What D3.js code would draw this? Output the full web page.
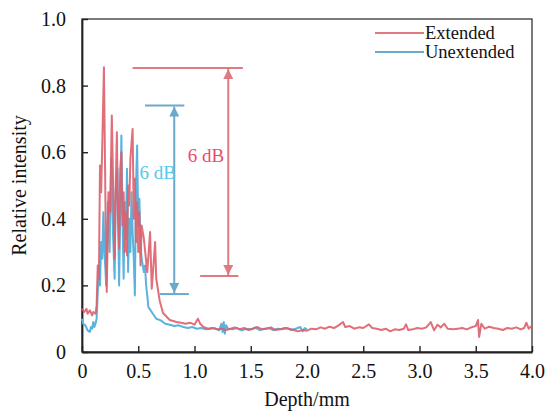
<html>
<head>
    <meta charset="UTF-8">
    <title>Relative intensity vs depth</title>
    <script src="https://d3js.org/d3.v7.min.js"></script>
    <style>
        body { margin: 0; background: #fff; }
        text { font-family: "Liberation Serif", "Times New Roman", serif; }
    </style>
</head>
<body>
    <svg width="545" height="417"></svg>
    <script>
        // values (depth in mm, relative intensity)
        var extendedDepth = [0.00, 0.02, 0.04, 0.05, 0.07, 0.09, 0.10, 0.12, 0.13, 0.14, 0.15, 0.16, 0.17, 0.18, 0.195,
            0.21, 0.22, 0.235, 0.25, 0.265, 0.28, 0.29, 0.30, 0.31, 0.32, 0.33, 0.34, 0.35, 0.36, 0.37, 0.38, 0.39,
            0.40, 0.41, 0.42, 0.43, 0.45, 0.46, 0.47, 0.48, 0.49, 0.50, 0.51, 0.52, 0.53, 0.55, 0.58, 0.605, 0.62,
            0.65, 0.66, 0.69, 0.72, 0.78, 0.84, 0.88, 0.92, 0.96, 1.00, 1.03, 1.05, 1.08, 1.12, 1.16, 1.20, 1.24,
            1.28, 1.32, 1.36, 1.40, 1.44, 1.48, 1.52, 1.56, 1.60, 1.64, 1.68, 1.72, 1.76, 1.80, 1.84, 1.88, 1.92,
            1.96, 2.00, 2.04, 2.08, 2.12, 2.16, 2.20, 2.24, 2.28, 2.32, 2.34, 2.38, 2.42, 2.46, 2.50, 2.55, 2.58,
            2.62, 2.66, 2.70, 2.74, 2.78, 2.82, 2.86, 2.88, 2.90, 2.94, 2.98, 3.02, 3.06, 3.10, 3.13, 3.16, 3.19,
            3.22, 3.25, 3.30, 3.34, 3.38, 3.42, 3.46, 3.50, 3.52, 3.53, 3.55, 3.58, 3.62, 3.66, 3.70, 3.74, 3.78,
            3.82, 3.86, 3.90, 3.93, 3.95, 3.97, 4.00];
        var extendedIntensity = [0.13, 0.12, 0.13, 0.115, 0.125, 0.11, 0.12, 0.115, 0.14, 0.26, 0.22, 0.56, 0.48, 0.62, 0.855,
            0.40, 0.18, 0.48, 0.42, 0.71, 0.45, 0.28, 0.50, 0.66, 0.40, 0.31, 0.55, 0.60, 0.38, 0.48, 0.30, 0.42,
            0.29, 0.50, 0.44, 0.58, 0.67, 0.40, 0.52, 0.33, 0.45, 0.30, 0.42, 0.26, 0.38, 0.34, 0.24, 0.36, 0.19,
            0.33, 0.22, 0.155, 0.117, 0.096, 0.09, 0.088, 0.085, 0.088, 0.082, 0.10, 0.085, 0.075, 0.07, 0.072, 0.068, 0.07,
            0.066, 0.07, 0.074, 0.068, 0.072, 0.066, 0.07, 0.075, 0.068, 0.07, 0.074, 0.066, 0.068, 0.072, 0.07, 0.066, 0.062,
            0.066, 0.064, 0.07, 0.068, 0.074, 0.07, 0.076, 0.072, 0.08, 0.09, 0.075, 0.078, 0.07, 0.074, 0.072, 0.083, 0.072,
            0.07, 0.066, 0.07, 0.062, 0.068, 0.066, 0.07, 0.083, 0.066, 0.068, 0.072, 0.07, 0.074, 0.09, 0.065, 0.082, 0.074,
            0.085, 0.07, 0.068, 0.07, 0.072, 0.068, 0.074, 0.078, 0.096, 0.045, 0.085, 0.07, 0.076, 0.072, 0.07, 0.066, 0.072,
            0.07, 0.074, 0.068, 0.072, 0.088, 0.07, 0.08];

        var unextendedDepth = [0.00, 0.01, 0.03, 0.05, 0.07, 0.08, 0.09, 0.10, 0.11, 0.12, 0.13, 0.14, 0.15, 0.16, 0.17,
            0.18, 0.19, 0.20, 0.215, 0.23, 0.245, 0.26, 0.275, 0.29, 0.30, 0.315, 0.33, 0.35, 0.36, 0.37, 0.38, 0.39,
            0.40, 0.41, 0.42, 0.43, 0.44, 0.45, 0.46, 0.47, 0.48, 0.49, 0.50, 0.51, 0.52, 0.53, 0.55, 0.56, 0.57,
            0.58, 0.59, 0.61, 0.63, 0.66, 0.70, 0.74, 0.78, 0.82, 0.86, 0.90, 0.94, 0.98, 1.02, 1.06, 1.10, 1.14,
            1.18, 1.22, 1.24, 1.25, 1.26, 1.27, 1.28, 1.30, 1.34, 1.38, 1.42, 1.46, 1.50, 1.54, 1.58, 1.62, 1.66,
            1.70, 1.74, 1.78, 1.82, 1.86, 1.90, 1.94, 1.96, 1.98, 2.00];
        var unextendedIntensity = [0.10, 0.085, 0.08, 0.065, 0.06, 0.075, 0.07, 0.09, 0.075, 0.085, 0.10, 0.18, 0.26, 0.20, 0.33,
            0.28, 0.42, 0.30, 0.20, 0.45, 0.30, 0.58, 0.36, 0.22, 0.48, 0.55, 0.20, 0.65, 0.40, 0.22, 0.45, 0.34,
            0.55, 0.24, 0.40, 0.30, 0.48, 0.36, 0.28, 0.17, 0.50, 0.62, 0.38, 0.46, 0.32, 0.28, 0.24, 0.26, 0.20,
            0.17, 0.135, 0.125, 0.115, 0.10, 0.095, 0.085, 0.082, 0.078, 0.08, 0.075, 0.072, 0.075, 0.07, 0.072, 0.068, 0.07,
            0.072, 0.065, 0.085, 0.06, 0.09, 0.055, 0.08, 0.07, 0.068, 0.072, 0.065, 0.07, 0.068, 0.074, 0.066, 0.07, 0.072,
            0.066, 0.07, 0.068, 0.072, 0.066, 0.07, 0.075, 0.062, 0.072, 0.068];

        var xTicks = [0, 0.5, 1.0, 1.5, 2.0, 2.5, 3.0, 3.5, 4.0];
        var xTickLabels = ['0', '0.5', '1.0', '1.5', '2.0', '2.5', '3.0', '3.5', '4.0'];
        var yTicks = [0, 0.2, 0.4, 0.6, 0.8, 1.0];
        var yTickLabels = ['0', '0.2', '0.4', '0.6', '0.8', '1.0'];

        var seriesNames = ['Extended', 'Unextended'];
        // 6 dB markers: [top intensity, bottom intensity]
        var extendedSpan = [0.853, 0.228];
        var unextendedSpan = [0.74, 0.174];
        var spanLabels = ['6 dB', '6 dB'];

        var serif = '"Liberation Serif", "Times New Roman", serif';
        var margin = { top: 19, right: 13, bottom: 65, left: 82 },
            svg = d3.select('svg'),
            width = +svg.attr('width') - margin.left - margin.right,
            height = +svg.attr('height') - margin.top - margin.bottom,
            g = svg.append('g').attr('transform', 'translate(' + margin.left + ',' + margin.top + ')');

        var x = d3.scaleLinear().domain([0, 4]).range([0, width]);
        var y = d3.scaleLinear().domain([0, 1]).range([height, 0]);

        var colors = { ext: '#dd5f6b', unext: '#5ab3dc', extMark: '#e07a82', unextMark: '#6aa9cc',
                       extText: '#ea4a72', unextText: '#55c8ec' };

        // frame
        g.append('rect').attr('width', width).attr('height', height)
            .attr('fill', 'none').attr('stroke', '#222').attr('stroke-width', 1.2);

        var xAxis = g.append('g').attr('transform', 'translate(0,' + height + ')')
            .call(d3.axisBottom(x).tickValues(xTicks).tickSizeInner(-6).tickSizeOuter(0)
                .tickFormat(function (d, i) { return xTickLabels[i]; }));
        var yAxis = g.append('g')
            .call(d3.axisLeft(y).tickValues(yTicks).tickSizeInner(-6).tickSizeOuter(0)
                .tickFormat(function (d, i) { return yTickLabels[i]; }));
        [xAxis, yAxis].forEach(function (a) {
            a.attr('font-family', serif).attr('font-size', 20);
            a.select('.domain').attr('stroke', '#222').attr('stroke-width', 1.8);
            a.selectAll('.tick line').attr('stroke', '#222').attr('stroke-width', 1.4);
            a.selectAll('.tick text').attr('fill', '#111');
        });
        xAxis.selectAll('.tick text').attr('y', 12);
        yAxis.selectAll('.tick text').attr('x', -16);

        svg.append('text').attr('x', margin.left + width / 2).attr('y', 406)
            .attr('text-anchor', 'middle').attr('font-size', 20).attr('fill', '#111').text('Depth/mm');
        svg.append('text').attr('transform', 'translate(26,' + (margin.top + height / 2) + ') rotate(-90)')
            .attr('text-anchor', 'middle').attr('font-size', 20).attr('fill', '#111').text('Relative intensity');

        var line = d3.line().x(function (d) { return x(d[0]); }).y(function (d) { return y(d[1]); });
        var ext = d3.zip(extendedDepth, extendedIntensity);
        var unext = d3.zip(unextendedDepth, unextendedIntensity);

        g.append('path').datum(unext).attr('fill', 'none').attr('stroke', colors.unext)
            .attr('stroke-width', 2).attr('stroke-linejoin', 'round').attr('d', line);
        g.append('path').datum(ext).attr('fill', 'none').attr('stroke', colors.ext)
            .attr('stroke-width', 2).attr('stroke-linejoin', 'round').attr('opacity', 0.9).attr('d', line);

        // arrow markers
        var defs = svg.append('defs');
        [['arrExt', colors.extMark], ['arrUnext', colors.unextMark]].forEach(function (m) {
            defs.append('marker').attr('id', m[0]).attr('viewBox', '0 0 10 10').attr('refX', 10).attr('refY', 5)
                .attr('markerWidth', 5).attr('markerHeight', 5).attr('orient', 'auto-start-reverse')
                .append('path').attr('d', 'M0,0L10,5L0,10z').attr('fill', m[1]);
        });

        function span(vals, xv, topX, botX, col, marker) {
            var s = g.append('g').attr('stroke', col).attr('stroke-width', 2);
            s.append('line').attr('x1', x(topX[0])).attr('x2', x(topX[1]))
                .attr('y1', y(vals[0])).attr('y2', y(vals[0]));
            s.append('line').attr('x1', x(botX[0])).attr('x2', x(botX[1]))
                .attr('y1', y(vals[1])).attr('y2', y(vals[1]));
            s.append('line').attr('x1', x(xv)).attr('x2', x(xv))
                .attr('y1', y(vals[0]) + 1).attr('y2', y(vals[1]) - 1)
                .attr('marker-start', 'url(#' + marker + ')').attr('marker-end', 'url(#' + marker + ')');
        }
        span(extendedSpan, 1.30, [0.45, 1.43], [1.05, 1.39], colors.extMark, 'arrExt');
        span(unextendedSpan, 0.82, [0.56, 0.91], [0.69, 0.95], colors.unextMark, 'arrUnext');

        g.append('text').attr('x', x(0.94)).attr('y', y(0.57)).attr('font-size', 19)
            .attr('fill', colors.extText).text(spanLabels[0]);
        g.append('text').attr('x', x(0.51)).attr('y', y(0.52)).attr('font-size', 19)
            .attr('fill', colors.unextText).text(spanLabels[1]);

        // legend
        var legend = svg.append('g').attr('transform', 'translate(375,33)');
        [[seriesNames[0], colors.extMark], [seriesNames[1], colors.unextMark]].forEach(function (d, i) {
            var row = legend.append('g').attr('transform', 'translate(0,' + (i * 19) + ')');
            row.append('line').attr('x1', 0).attr('x2', 49).attr('stroke', d[1]).attr('stroke-width', 2.2);
            row.append('text').attr('x', 50).attr('y', 6).attr('font-size', 18.5).attr('fill', '#111').text(d[0]);
        });
    </script>
</body>
</html>
